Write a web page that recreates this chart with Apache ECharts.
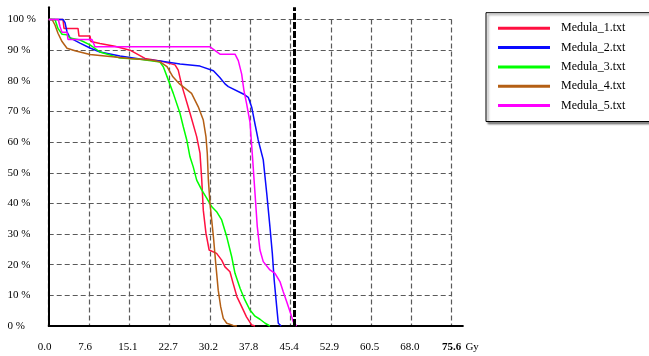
<!DOCTYPE html>
<html><head><meta charset="utf-8">
<script src="https://cdn.jsdelivr.net/npm/echarts/dist/echarts.min.js"></script>
<style>html,body{margin:0;padding:0;background:#fff}#c{width:649px;height:356px}</style>
</head><body><div id="c"></div>
<script>
// ---- data ----
const seriesNames = ['Medula_1.txt', 'Medula_2.txt', 'Medula_3.txt', 'Medula_4.txt', 'Medula_5.txt'];
const seriesColors = ['#ff1040', '#0a0aff', '#00ff00', '#b45f14', '#ff00ff'];
const doseMax = 75.6;          // Gy, last tick
const doseInterval = 7.56;     // Gy between ticks
const volumeMax = 100;         // %
const volumeInterval = 10;
const prescriptionDose = 46;   // thick dashed reference line (Gy)

// [dose Gy, volume %]
const medula1 = [[0,100],[2.68,100],[2.87,97.1],[5.5,97.1],[5.68,94.6],[7.75,94.6],[7.93,92.8],[9.62,92.2],[12.4,91.3],[15.25,90],[18.06,87.3],[20.88,86.5],[23.7,85.2],[24.3,83.5],[24.95,78.6],[26.5,69.5],[27.76,61.8],[28.38,56.4],[28.7,48],[29.0,37.8],[29.5,30.3],[30.1,24.8],[31.5,23.7],[32.45,21.5],[33.07,19.3],[34.0,17.7],[34.6,13.9],[35.3,9.6],[36.2,6.3],[37.1,3.0],[38.1,0.3],[38.7,0]];
const medula2 = [[0,100],[2.68,100],[3.06,99],[3.43,96],[4.0,94],[5.87,92.3],[7.75,90.7],[9.62,89.4],[13.37,88.1],[17.13,87.1],[20.88,86.5],[24.63,85.5],[28.38,84.8],[30.9,83.3],[32.1,81.1],[33.07,79],[33.7,78.1],[36.5,75.7],[37.44,74.6],[38.08,71.4],[38.7,65.9],[39.3,60.7],[40.25,54.2],[40.9,43.3],[41.5,32.4],[41.95,23.7],[42.3,15],[42.77,6.3],[43.07,0.9],[43.6,0]];
const medula3 = [[0,100],[1.18,100],[1.74,97.1],[2.5,95.2],[3.43,95],[4.0,94],[5.87,93.3],[7.75,91.7],[9.62,89.4],[13.37,87.4],[17.13,87],[20.88,86.1],[21.5,84.6],[22.43,80.3],[23.37,75.9],[24.63,69.4],[25.25,65],[25.9,60.7],[26.5,55.2],[27.1,52],[27.76,47.6],[28.7,44.4],[29.64,41.7],[30.6,38.9],[31.5,37.3],[32.45,34.6],[33.4,29.1],[34.33,22.6],[34.95,17.2],[35.9,12.3],[36.8,8.5],[37.76,5.2],[38.7,3.2],[39.63,2.2],[40.6,0.9],[41.5,0]];
const medula4 = [[0,100],[0.62,100],[1.18,98.2],[1.74,95.5],[2.5,92.8],[3.43,90.6],[4.93,89.8],[7.75,88.6],[11.5,87.9],[15.25,87.3],[19.0,86.8],[20.88,86.2],[22.2,84.6],[23.3,81.3],[24.6,78.9],[26.8,75.9],[28.06,71.5],[29.0,67.2],[29.5,61.8],[29.75,56.3],[29.94,48],[30.26,40],[30.9,29.1],[31.33,20.5],[31.8,11.7],[32.26,6.3],[32.75,2.5],[33.4,0.9],[34.6,0.2],[35.3,0]];
const medula5 = [[0,100],[1.8,100],[2.12,97.7],[2.5,95.8],[3.43,95.8],[3.62,93.5],[8.12,93.5],[8.68,91.1],[30.26,91.1],[32.13,88.7],[34.95,88.7],[35.57,86.6],[36.2,82.2],[36.63,76.8],[37.14,72.4],[37.76,66.5],[38.27,54.2],[38.7,43.3],[39.13,32.4],[39.63,24.8],[40.25,21],[41.5,18.3],[42.45,17.2],[43.38,14.5],[44.0,11.2],[44.65,7.9],[45.26,4.7],[45.88,1.4],[46.5,0]];
const seriesData = [medula1, medula2, medula3, medula4, medula5];

// ---- layout ----
const X0 = 48.7, Y0 = 326, PLOT_W = 403, PLOT_H = 306.5;
const pxPerGy = PLOT_W / doseMax, pxPerPct = PLOT_H / volumeMax;
const axisDoseEnd = 77.7, axisVolEnd = 104;   // axis lines run a little past the plot
const FONT = 'Liberation Serif';
const GRID_STYLE = {color: '#5a5a5a', width: 1.2, type: [5, 3]};

const chart = echarts.init(document.getElementById('c'), null, {renderer: 'canvas'});

const series = seriesNames.map((n, i) => ({
  name: n, type: 'line', xAxisIndex: 0, yAxisIndex: 0,
  data: seriesData[i], symbol: 'none', showSymbol: false, clip: false,
  color: seriesColors[i],
  lineStyle: {width: 1.5, color: seriesColors[i]},
  itemStyle: {color: seriesColors[i]},
  z: 3
}));
series.push({
  name: 'ref', type: 'line', xAxisIndex: 1, yAxisIndex: 1, data: [],
  symbol: 'none', silent: true,
  markLine: {
    silent: true, symbol: 'none', animation: false,
    label: {show: false},
    lineStyle: {color: '#000', width: 3, type: [7, 2]},
    data: [{xAxis: prescriptionDose}]
  }
});

chart.setOption({
  animation: false,
  backgroundColor: '#fff',
  grid: [
    {left: X0, top: Y0 - PLOT_H, width: PLOT_W, height: PLOT_H},
    {left: X0, top: Y0 - axisVolEnd * pxPerPct, width: axisDoseEnd * pxPerGy, height: axisVolEnd * pxPerPct}
  ],
  xAxis: [
    {
      type: 'value', gridIndex: 0, min: 0, max: doseMax, interval: doseInterval,
      axisLine: {show: false}, axisTick: {show: false},
      axisLabel: {
        margin: 15.5, interval: 0, showMinLabel: true, showMaxLabel: true,
        fontFamily: FONT, fontSize: 11, color: '#000',
        formatter: v => {
          const s = v.toFixed(1);
          if (Math.abs(v - doseMax) < 1e-6) return '{b|' + s + '}';
          return s.length === 3 ? '{s|' + s + '}' : '{n|' + s + '}';
        },
        rich: {
          b: {fontFamily: FONT, fontSize: 11, fontWeight: 'bold', color: '#000'},
          s: {fontFamily: FONT, fontSize: 11, color: '#000', padding: [0, 8, 0, 0]},
          n: {fontFamily: FONT, fontSize: 11, color: '#000', padding: [0, 3, 0, 0]}
        }
      },
      splitLine: {show: true, lineStyle: GRID_STYLE}
    },
    {
      type: 'value', gridIndex: 1, min: 0, max: axisDoseEnd,
      axisLine: {show: true, lineStyle: {color: '#000', width: 2}},
      axisTick: {show: false}, axisLabel: {show: false}, splitLine: {show: false},
      name: 'Gy', nameLocation: 'end', nameGap: 2.5,
      nameTextStyle: {fontFamily: FONT, fontSize: 11, color: '#000', verticalAlign: 'top', padding: [15.5, 0, 0, 0]}
    }
  ],
  yAxis: [
    {
      type: 'value', gridIndex: 0, min: 0, max: volumeMax, interval: volumeInterval,
      axisLine: {show: false}, axisTick: {show: false},
      axisLabel: {
        align: 'left', margin: 41.2, fontFamily: FONT, fontSize: 11, color: '#000',
        formatter: v => v + ' %'
      },
      splitLine: {show: true, lineStyle: GRID_STYLE}
    },
    {
      type: 'value', gridIndex: 1, min: 0, max: axisVolEnd,
      axisLine: {show: true, lineStyle: {color: '#000', width: 2}},
      axisTick: {show: false}, axisLabel: {show: false}, splitLine: {show: false}
    }
  ],
  legend: {
    data: seriesNames, orient: 'vertical', left: 486, top: 12.7,
    icon: 'rect', itemWidth: 52, itemHeight: 3, itemGap: 7.3,
    padding: [9.6, 25, 10, 12],
    backgroundColor: '#fff', borderColor: '#000', borderWidth: 1, borderRadius: 0,
    shadowColor: 'rgba(0,0,0,0.45)', shadowBlur: 2, shadowOffsetX: 2, shadowOffsetY: 2,
    selectedMode: false,
    textStyle: {fontFamily: FONT, fontSize: 12, color: '#000', padding: [0, 0, 0, 6]}
  },
  series: series
});
</script>
</body></html>
